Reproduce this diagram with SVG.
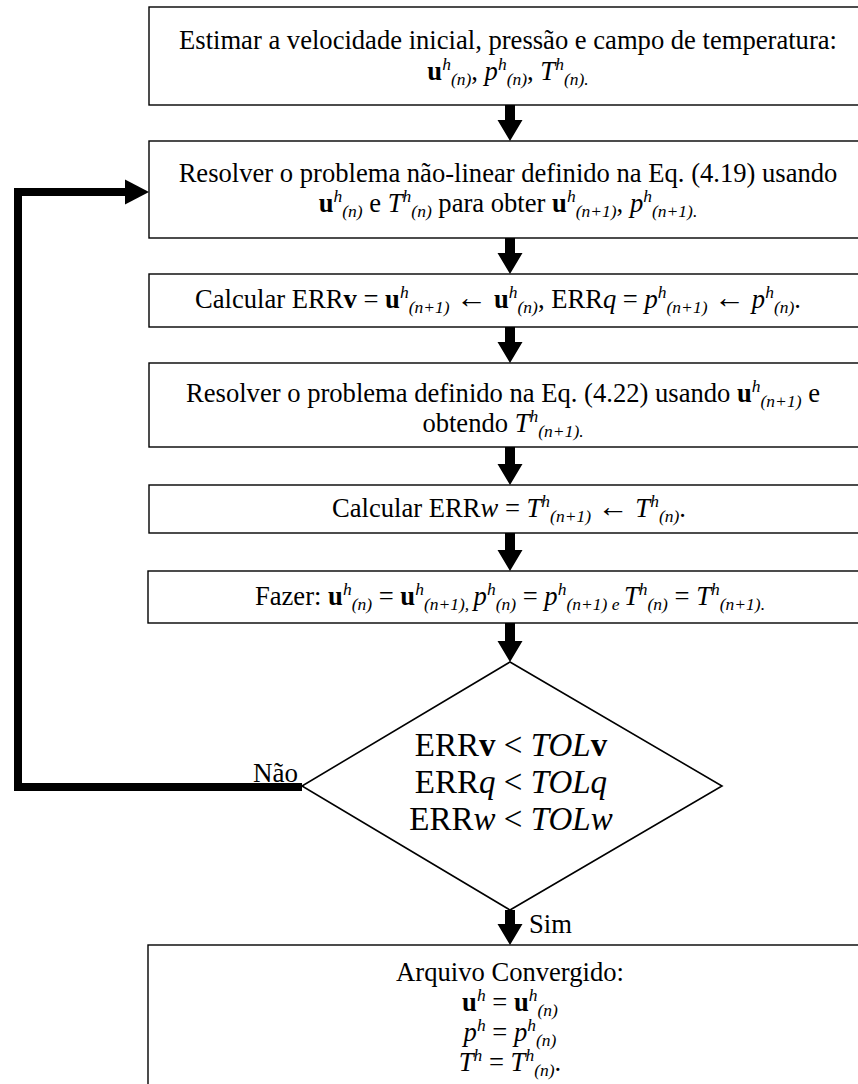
<svg xmlns="http://www.w3.org/2000/svg" width="858" height="1084" viewBox="0 0 858 1084">
<style>
text { font-family: "Liberation Serif", "Times New Roman", serif; font-size: 26.6px; fill: #000; }
.b { font-weight: bold; }
.i { font-style: italic; }
.s { font-size: 17.5px; font-style: italic; font-weight: normal; }
.a { font-size: 31px; }
.d { font-size: 33px; }
.box { fill: #fff; stroke: #000; stroke-width: 1.4; }
.arr { fill: #000; stroke: none; }
</style>
<rect width="858" height="1084" fill="#fff"/>

<g id="connectors">
  <path class="arr" d="M505,105 H515 V120 H522.5 L510,141 L497.5,120 H505 Z"/>
  <path class="arr" d="M505,238 H515 V253 H522.5 L510,274 L497.5,253 H505 Z"/>
  <path class="arr" d="M505,327 H515 V342 H522.5 L510,363 L497.5,342 H505 Z"/>
  <path class="arr" d="M505,447 H515 V464 H522.5 L510,485 L497.5,464 H505 Z"/>
  <path class="arr" d="M505,533 H515 V550 H522.5 L510,571 L497.5,550 H505 Z"/>
  <path class="arr" d="M505,623 H515 V641 H522.5 L510,662 L497.5,641 H505 Z"/>
  <path class="arr" d="M505,910 H515 V924 H522.5 L510,945 L497.5,924 H505 Z"/>
  <polyline points="302,787 18,787 18,192 127,192" fill="none" stroke="#000" stroke-width="8" stroke-linejoin="miter"/>
  <path class="arr" d="M125,179.5 L149,192 L125,204.5 Z"/>
  <text x="253" y="782" style="font-size:27px">Não</text>
  <text x="529" y="933">Sim</text>
</g>

<g id="n1">
  <rect class="box" x="149" y="7" width="718" height="98"/>
  <text x="508" y="49" text-anchor="middle">Estimar a velocidade inicial, pressão e campo de temperatura:</text>
  <text x="508" y="80" text-anchor="middle"><tspan class="b">u</tspan><tspan class="s" dy="-10">h</tspan><tspan class="s" dy="15">(n)</tspan><tspan dy="-5">, </tspan><tspan class="i">p</tspan><tspan class="s" dy="-10">h</tspan><tspan class="s" dy="15">(n)</tspan><tspan dy="-5">, </tspan><tspan class="i">T</tspan><tspan class="s" dy="-10">h</tspan><tspan class="s" dy="15">(n).</tspan></text>
</g>

<g id="n2">
  <rect class="box" x="149" y="141" width="718" height="97"/>
  <text x="508" y="182" text-anchor="middle">Resolver o problema não-linear definido na Eq. (4.19) usando</text>
  <text x="508" y="212" text-anchor="middle"><tspan class="b">u</tspan><tspan class="s" dy="-10">h</tspan><tspan class="s" dy="15">(n)</tspan><tspan dy="-5"> e </tspan><tspan class="i">T</tspan><tspan class="s" dy="-10">h</tspan><tspan class="s" dy="15">(n)</tspan><tspan dy="-5"> para obter </tspan><tspan class="b">u</tspan><tspan class="s" dy="-10">h</tspan><tspan class="s" dy="15">(n+1)</tspan><tspan dy="-5">, </tspan><tspan class="i">p</tspan><tspan class="s" dy="-10">h</tspan><tspan class="s" dy="15">(n+1).</tspan></text>
</g>

<g id="n3">
  <rect class="box" x="149" y="274" width="718" height="53"/>
  <text x="498" y="308" text-anchor="middle">Calcular ERR<tspan class="b">v</tspan> = <tspan class="b">u</tspan><tspan class="s" dy="-10">h</tspan><tspan class="s" dy="15">(n+1)</tspan><tspan dy="-5"> </tspan><tspan class="a">←</tspan> <tspan class="b">u</tspan><tspan class="s" dy="-10">h</tspan><tspan class="s" dy="15">(n)</tspan><tspan dy="-5">, ERR</tspan><tspan class="i">q</tspan> = <tspan class="i">p</tspan><tspan class="s" dy="-10">h</tspan><tspan class="s" dy="15">(n+1)</tspan><tspan dy="-5"> </tspan><tspan class="a">←</tspan> <tspan class="i">p</tspan><tspan class="s" dy="-10">h</tspan><tspan class="s" dy="15">(n)</tspan><tspan dy="-5">.</tspan></text>
</g>

<g id="n4">
  <rect class="box" x="149" y="363" width="718" height="84"/>
  <text x="503" y="402" text-anchor="middle">Resolver o problema definido na Eq. (4.22) usando <tspan class="b">u</tspan><tspan class="s" dy="-10">h</tspan><tspan class="s" dy="15">(n+1)</tspan><tspan dy="-5"> e</tspan></text>
  <text x="503" y="432" text-anchor="middle">obtendo <tspan class="i">T</tspan><tspan class="s" dy="-10">h</tspan><tspan class="s" dy="15">(n+1).</tspan></text>
</g>

<g id="n5">
  <rect class="box" x="149" y="485" width="718" height="48"/>
  <text x="509" y="517" text-anchor="middle">Calcular ERR<tspan class="i">w</tspan> = <tspan class="i">T</tspan><tspan class="s" dy="-10">h</tspan><tspan class="s" dy="15">(n+1)</tspan><tspan dy="-5"> </tspan><tspan class="a">←</tspan> <tspan class="i">T</tspan><tspan class="s" dy="-10">h</tspan><tspan class="s" dy="15">(n)</tspan><tspan dy="-5">.</tspan></text>
</g>

<g id="n6">
  <rect class="box" x="148" y="571" width="719" height="52"/>
  <text x="510" y="605" text-anchor="middle">Fazer: <tspan class="b">u</tspan><tspan class="s" dy="-10">h</tspan><tspan class="s" dy="15">(n)</tspan><tspan dy="-5"> = </tspan><tspan class="b">u</tspan><tspan class="s" dy="-10">h</tspan><tspan class="s" dy="15">(n+1), </tspan><tspan class="i" dy="-5">p</tspan><tspan class="s" dy="-10">h</tspan><tspan class="s" dy="15">(n)</tspan><tspan dy="-5"> = </tspan><tspan class="i">p</tspan><tspan class="s" dy="-10">h</tspan><tspan class="s" dy="15">(n+1) e </tspan><tspan class="i" dy="-5">T</tspan><tspan class="s" dy="-10">h</tspan><tspan class="s" dy="15">(n)</tspan><tspan dy="-5"> = </tspan><tspan class="i">T</tspan><tspan class="s" dy="-10">h</tspan><tspan class="s" dy="15">(n+1).</tspan></text>
</g>

<g id="decision">
  <polygon points="510,662 722,786 510,910 302,786" fill="#fff" stroke="#000" stroke-width="1.6"/>
  <text class="d" x="511" y="756" text-anchor="middle">ERR<tspan class="b">v</tspan> &lt; <tspan class="i">TOL</tspan><tspan class="b">v</tspan></text>
  <text class="d" x="511" y="793" text-anchor="middle">ERR<tspan class="i">q</tspan> &lt; <tspan class="i">TOLq</tspan></text>
  <text class="d" x="511" y="830" text-anchor="middle">ERR<tspan class="i">w</tspan> &lt; <tspan class="i">TOLw</tspan></text>
</g>

<g id="n7">
  <rect class="box" x="148" y="945" width="719" height="200"/>
  <text x="510" y="981" text-anchor="middle">Arquivo Convergido:</text>
  <text x="510" y="1011" text-anchor="middle"><tspan class="b">u</tspan><tspan class="s" dy="-10">h</tspan><tspan dy="10"> = </tspan><tspan class="b">u</tspan><tspan class="s" dy="-10">h</tspan><tspan class="s" dy="15">(n)</tspan></text>
  <text x="510" y="1041" text-anchor="middle"><tspan class="i">p</tspan><tspan class="s" dy="-10">h</tspan><tspan dy="10"> = </tspan><tspan class="i">p</tspan><tspan class="s" dy="-10">h</tspan><tspan class="s" dy="15">(n)</tspan></text>
  <text x="510" y="1071" text-anchor="middle"><tspan class="i">T</tspan><tspan class="s" dy="-10">h</tspan><tspan dy="10"> = </tspan><tspan class="i">T</tspan><tspan class="s" dy="-10">h</tspan><tspan class="s" dy="15">(n)</tspan><tspan dy="-5">.</tspan></text>
</g>
</svg>
